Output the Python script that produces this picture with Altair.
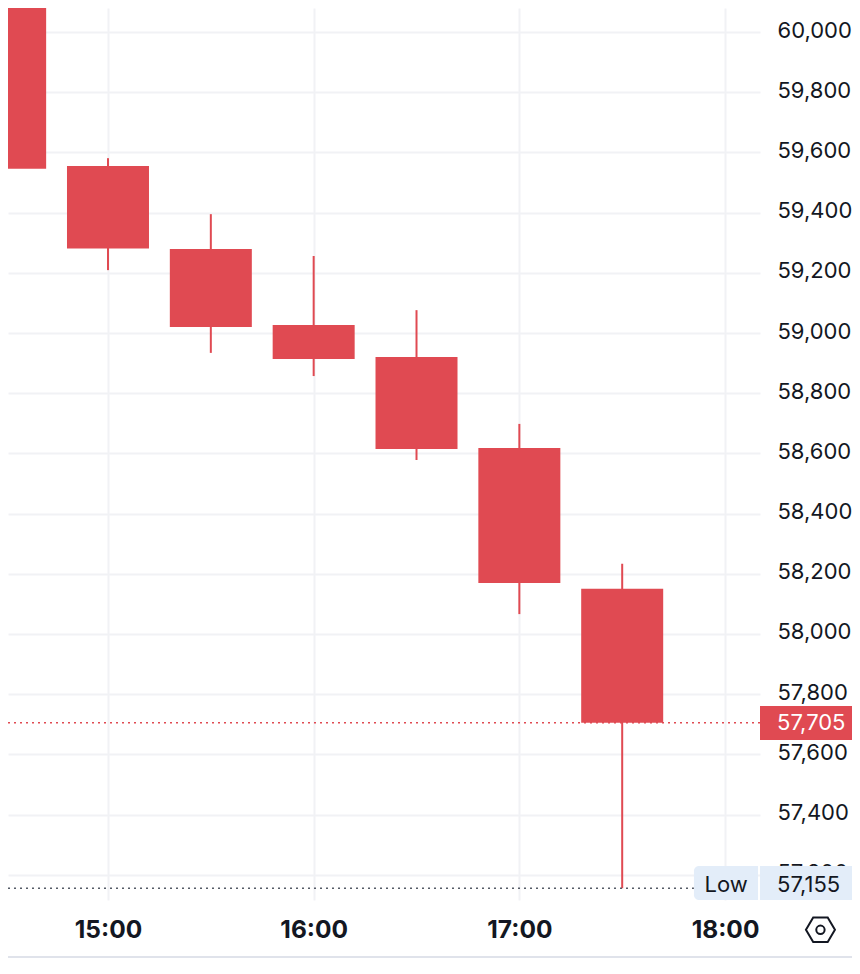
import altair as alt
import pandas as pd

DAY = "2024-03-05T"
times = ["14:30:00", "15:00:00", "15:30:00", "16:00:00", "16:30:00", "17:00:00", "17:30:00"]
opens = [60320, 59555, 59279, 59027, 58920, 58618, 58150]
closes = [59546, 59281, 59020, 58914, 58615, 58169, 57705]
highs = [60500, 59581, 59395, 59256, 59076, 58698, 58233]
lows = [59316, 59209, 58934, 58857, 58578, 58066, 57155]

price_ticks = list(range(57200, 60001, 200))
time_ticks = ["15:00:00", "16:00:00", "17:00:00", "18:00:00"]

RED = "#E04A52"
INK = "#131722"
GRID = "#F1F2F5"
TAG = "#E3EDF9"
FONT = "Inter"

x_start = DAY + "14:30:50"
plot_end = DAY + "18:10:12"
page_end = DAY + "18:39:22"
low_tag_start = DAY + "17:50:56"
low_tag_end = DAY + "18:09:37"
low_text = DAY + "18:00:18"
price_text = DAY + "18:15:10"
icon_x = DAY + "18:27:50"
y_min, y_max = 57116, 60080
last_price, session_low = 57705, 57155
red_tag = (57761, 57648)
low_tag = (57229, 57116)
icon_y = 57017
base_y = 56927

candles = pd.DataFrame({
    "t": [DAY + t for t in times],
    "open": opens, "close": closes, "high": highs, "low": lows,
})

x_scale = alt.Scale(domain=[x_start, plot_end], nice=False, padding=0)
y_scale = alt.Scale(domain=[y_min, y_max], nice=False, zero=False, padding=0)
X = alt.X("t:T", scale=x_scale, title=None, axis=alt.Axis(
    values=[DAY + t for t in time_ticks], format="%H:%M", orient="bottom",
    domain=False, ticks=False, labelPadding=18, labelFontSize=24.5, labelFontWeight=700,
    labelFont=FONT, labelColor=INK, labelOverlap=False, labelFlush=False,
    grid=True, gridColor=GRID, gridWidth=2))
Y = alt.Y("high:Q", scale=y_scale, title=None, axis=alt.Axis(
    values=price_ticks, format=",d", orient="right",
    domain=False, ticks=False, labelPadding=17, labelFontSize=22, labelFont=FONT,
    labelColor=INK, labelOverlap=False, labelFlush=False, labelOffset=-2,
    grid=True, gridColor=GRID, gridWidth=2))

wicks = alt.Chart(candles).mark_rule(color=RED, strokeWidth=2, clip=True).encode(
    x=X, y=Y, y2="low:Q")
bodies = alt.Chart(candles).mark_bar(color=RED, size=82, clip=True, orient="vertical").encode(
    x=alt.X("t:T", scale=x_scale),
    y=alt.Y("open:Q", scale=y_scale),
    y2="close:Q")


def frame(**cols):
    return alt.Chart(pd.DataFrame({k: [v] for k, v in cols.items()}))


def tx(field="a"):
    return alt.X(f"{field}:T", scale=x_scale)


def ty(field="v"):
    return alt.Y(f"{field}:Q", scale=y_scale)


last_line = frame(a=x_start, b=plot_end, v=last_price).mark_rule(
    color=RED, strokeWidth=1.5, strokeDash=[2, 4]).encode(x=tx(), x2="b:T", y=ty())
low_line = frame(a=x_start, b=low_tag_start, v=session_low).mark_rule(
    color="#555B66", strokeWidth=1.5, strokeDash=[2, 4]).encode(x=tx(), x2="b:T", y=ty())

last_box = frame(a=plot_end, b=page_end, v=red_tag[0], w=red_tag[1]).mark_rect(color=RED).encode(
    x=tx(), x2="b:T", y=ty(), y2="w:Q")
low_box = frame(a=low_tag_start, b=low_tag_end, v=low_tag[0], w=low_tag[1]).mark_rect(
    color=TAG, cornerRadiusTopLeft=5, cornerRadiusBottomLeft=5).encode(
    x=tx(), x2="b:T", y=ty(), y2="w:Q")
price_box = frame(a=plot_end, b=page_end, v=low_tag[0], w=low_tag[1]).mark_rect(color=TAG).encode(
    x=tx(), x2="b:T", y=ty(), y2="w:Q")

last_txt = frame(a=price_text, v=last_price, s="57,705").mark_text(
    align="left", baseline="middle", font=FONT, fontSize=22, color="#FFFFFF").encode(
    x=tx(), y=ty(), text="s:N")
low_val = frame(a=price_text, v=session_low + 10, s="57,155").mark_text(
    align="left", baseline="middle", font=FONT, fontSize=22, color=INK).encode(
    x=tx(), y=ty(), text="s:N")
low_lbl = frame(a=low_text, v=session_low + 10, s="Low").mark_text(
    align="center", baseline="middle", font=FONT, fontSize=22, color=INK).encode(
    x=tx(), y=ty(), text="s:N")

hexagon = frame(a=icon_x, v=icon_y).mark_point(
    shape="M-1,0L-0.5,-0.85L0.5,-0.85L1,0L0.5,0.85L-0.5,0.85Z",
    size=841, filled=False, color=INK, strokeWidth=2, opacity=1).encode(x=tx(), y=ty())
dot = frame(a=icon_x, v=icon_y).mark_point(
    shape="circle", size=70, filled=False, color=INK, strokeWidth=2, opacity=1).encode(x=tx(), y=ty())

baseline = frame(a=x_start, b=page_end, v=base_y).mark_rule(
    color="#E0E3EB", strokeWidth=2).encode(x=tx(), x2="b:T", y=ty())

chart = alt.layer(
    wicks, bodies, last_line, low_line, last_box, low_box, price_box,
    last_txt, low_val, low_lbl, hexagon, dot, baseline,
).properties(
    width=752, height=892,
    autosize=alt.AutoSizeParams(type="none"),
    padding={"left": 0, "top": 0, "right": 92, "bottom": 60},
    background="#FFFFFF",
).configure_view(stroke=None)

chart.save("out.html", embed_options={"renderer": "svg", "actions": False})
